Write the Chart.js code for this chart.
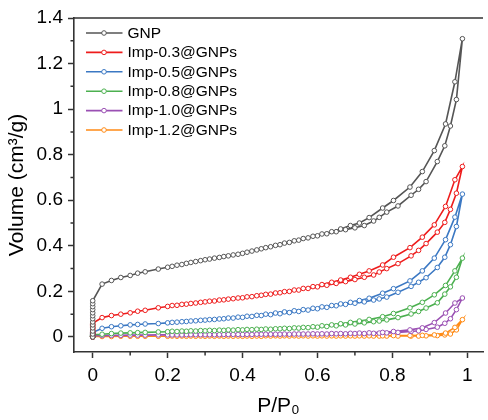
<!DOCTYPE html>
<html>
<head>
<meta charset="utf-8">
<script src="https://cdn.jsdelivr.net/npm/chart.js@4.4.1/dist/chart.umd.min.js"></script>
<style>
  html, body { margin: 0; padding: 0; background: #fff; }
  #wrap { width: 488px; height: 420px; }
</style>
</head>
<body>
<div id="wrap"><canvas id="isoChart"></canvas></div>
<script>
// relative pressure P/P0 - adsorption branch (first points sit on the axis)
const adsP = [0, 0, 0, 0, 0, 0, 0, 0, 0, 0, 0, 0, 0,
  0.025, 0.05, 0.075, 0.1, 0.12, 0.14, 0.175, 0.2, 0.225, 0.25, 0.275, 0.3, 0.325, 0.35,
  0.375, 0.4, 0.425, 0.45, 0.475, 0.5, 0.525, 0.55, 0.575, 0.6, 0.625, 0.65, 0.675, 0.7,
  0.725, 0.75, 0.765, 0.785, 0.815, 0.85, 0.87, 0.89, 0.92, 0.94, 0.955, 0.971, 0.987];
// desorption branch, going back down
const desP = [0.967, 0.942, 0.912, 0.88, 0.847, 0.803, 0.774, 0.738, 0.712, 0.688, 0.662,
  0.638, 0.612, 0.588, 0.562, 0.538, 0.512, 0.488, 0.462, 0.438, 0.412, 0.388, 0.362,
  0.338, 0.312, 0.288, 0.262, 0.238, 0.212];

const sampleNames = ["GNP", "Imp-0.3@GNPs", "Imp-0.5@GNPs", "Imp-0.8@GNPs", "Imp-1.0@GNPs", "Imp-1.2@GNPs"];
const sampleColors = ["#555555", "#ee1c1c", "#3b78c3", "#4cb050", "#9a50b3", "#ff8a14"];

// volume (cm3/g)
const gnpAds = [0, 0.013, 0.026, 0.04, 0.053, 0.066, 0.08, 0.093, 0.106, 0.12, 0.133, 0.146, 0.159,
  0.232, 0.248, 0.261, 0.270, 0.280, 0.286, 0.298, 0.306, 0.315, 0.323, 0.331, 0.339, 0.346, 0.353,
  0.360, 0.367, 0.377, 0.387, 0.396, 0.405, 0.415, 0.425, 0.435, 0.444, 0.453, 0.462, 0.471, 0.479,
  0.489, 0.509, 0.525, 0.548, 0.575, 0.622, 0.648, 0.682, 0.770, 0.839, 0.926, 1.042, 1.309];
const gnpDes = [1.120, 0.935, 0.818, 0.726, 0.658, 0.599, 0.566, 0.524, 0.500, 0.489, 0.474,
  0.462, 0.452, 0.442, 0.432, 0.422, 0.412, 0.402, 0.392, 0.382, 0.372, 0.363, 0.356,
  0.349, 0.342, 0.335, 0.327, 0.318, 0.310];

const imp03Ads = [0, 0.005, 0.01, 0.015, 0.02, 0.025, 0.03, 0.035, 0.04, 0.045, 0.05, 0.055, 0.06,
  0.085, 0.094, 0.100, 0.106, 0.113, 0.117, 0.128, 0.134, 0.139, 0.144, 0.149, 0.154, 0.158, 0.163,
  0.168, 0.172, 0.177, 0.183, 0.188, 0.194, 0.200, 0.206, 0.213, 0.220, 0.227, 0.235, 0.243, 0.252,
  0.262, 0.272, 0.285, 0.300, 0.322, 0.356, 0.380, 0.410, 0.460, 0.503, 0.560, 0.631, 0.748];
const imp03Des = [0.690, 0.573, 0.492, 0.438, 0.392, 0.350, 0.316, 0.290, 0.275, 0.262, 0.250,
  0.240, 0.230, 0.221, 0.213, 0.206, 0.199, 0.193, 0.187, 0.181, 0.176, 0.171, 0.166,
  0.162, 0.157, 0.152, 0.147, 0.143, 0.138];

const imp05Ads = [0, 0.002, 0.003, 0.005, 0.007, 0.008, 0.01, 0.012, 0.013, 0.015, 0.017, 0.018, 0.02,
  0.038, 0.045, 0.049, 0.053, 0.055, 0.057, 0.059, 0.062, 0.065, 0.068, 0.071, 0.074, 0.077, 0.080,
  0.083, 0.086, 0.090, 0.094, 0.098, 0.102, 0.107, 0.112, 0.118, 0.124, 0.130, 0.137, 0.143, 0.148,
  0.154, 0.162, 0.167, 0.175, 0.196, 0.222, 0.240, 0.260, 0.305, 0.350, 0.405, 0.485, 0.627];
const imp05Des = [0.526, 0.427, 0.346, 0.290, 0.246, 0.212, 0.192, 0.170, 0.160, 0.152, 0.145,
  0.138, 0.132, 0.126, 0.120, 0.115, 0.110, 0.105, 0.100, 0.095, 0.091, 0.087, 0.083,
  0.079, 0.076, 0.073, 0.070, 0.067, 0.064];

const imp08Ads = [0, 0.001, 0.002, 0.003, 0.003, 0.004, 0.005, 0.006, 0.007, 0.008, 0.008, 0.009, 0.010,
  0.012, 0.015, 0.017, 0.018, 0.019, 0.020, 0.022, 0.023, 0.024, 0.025, 0.026, 0.027, 0.028, 0.029,
  0.030, 0.031, 0.032, 0.033, 0.034, 0.036, 0.037, 0.039, 0.041, 0.043, 0.046, 0.049, 0.053, 0.057,
  0.062, 0.067, 0.070, 0.075, 0.085, 0.101, 0.112, 0.127, 0.150, 0.188, 0.220, 0.262, 0.346];
const imp08Des = [0.290, 0.226, 0.185, 0.152, 0.128, 0.103, 0.089, 0.077, 0.070, 0.064, 0.058,
  0.053, 0.049, 0.045, 0.042, 0.040, 0.038, 0.036, 0.035, 0.034, 0.033, 0.032, 0.031,
  0.030, 0.029, 0.028, 0.027, 0.026, 0.025];

const imp10Ads = [0, 0, 0.001, 0.001, 0.002, 0.002, 0.003, 0.003, 0.003, 0.004, 0.004, 0.005, 0.005,
  0.006, 0.007, 0.007, 0.008, 0.008, 0.008, 0.009, 0.009, 0.009, 0.010, 0.010, 0.010, 0.010, 0.011,
  0.011, 0.011, 0.011, 0.012, 0.012, 0.012, 0.012, 0.013, 0.013, 0.013, 0.013, 0.014, 0.014, 0.015,
  0.015, 0.016, 0.017, 0.018, 0.020, 0.024, 0.027, 0.033, 0.043, 0.060, 0.080, 0.120, 0.171];
const imp10Des = [0.149, 0.105, 0.063, 0.040, 0.031, 0.024, 0.020, 0.018, 0.017, 0.016, 0.015,
  0.015, 0.014, 0.014, 0.013, 0.013, 0.013, 0.012, 0.012, 0.012, 0.011, 0.011, 0.011,
  0.010, 0.010, 0.010, 0.010, 0.009, 0.009];

const imp12Ads = [0, 0, 0, 0, 0.001, 0.001, 0.001, 0.001, 0.001, 0.002, 0.002, 0.002, 0.002,
  0.002, 0.002, 0.003, 0.003, 0.003, 0.003, 0.003, 0.003, 0.003, 0.003, 0.003, 0.003, 0.003, 0.003,
  0.003, 0.003, 0.003, 0.003, 0.004, 0.004, 0.004, 0.004, 0.004, 0.004, 0.004, 0.004, 0.004, 0.004,
  0.004, 0.004, 0.004, 0.004, 0.004, 0.004, 0.004, 0.005, 0.006, 0.009, 0.013, 0.031, 0.076];
const imp12Des = [0.042, 0.017, 0.009, 0.007, 0.006, 0.006, 0.005, 0.005, 0.005, 0.005, 0.005,
  0.005, 0.005, 0.005, 0.005, 0.005, 0.005, 0.005, 0.005, 0.004, 0.004, 0.004, 0.004,
  0.004, 0.004, 0.004, 0.004, 0.004, 0.004];

const xTicks = [0, 0.2, 0.4, 0.6, 0.8, 1];
const xMinor = [0.1, 0.3, 0.5, 0.7, 0.9];
const yTicks = [0, 0.2, 0.4, 0.6, 0.8, 1, 1.2, 1.4];
const yMinor = [0.1, 0.3, 0.5, 0.7, 0.9, 1.1, 1.3];

const seriesAds = [gnpAds, imp03Ads, imp05Ads, imp08Ads, imp10Ads, imp12Ads];
const seriesDes = [gnpDes, imp03Des, imp05Des, imp08Des, imp10Des, imp12Des];

function loopPoints(ads, des) {
  const pts = adsP.map((p, i) => ({ x: p, y: ads[i] }));
  return pts.concat(desP.map((p, i) => ({ x: p, y: des[i] })));
}

const FONT = "'Liberation Sans', Arial, sans-serif";
Chart.defaults.font.family = FONT;
Chart.defaults.color = "#000";

const datasets = sampleNames.map((name, i) => ({
  label: name,
  data: loopPoints(seriesAds[i], seriesDes[i]),
  showLine: true,
  borderColor: sampleColors[i],
  borderWidth: 1.6,
  pointRadius: 2.3,
  pointBorderWidth: 1,
  pointBackgroundColor: "#fff",
  pointBorderColor: sampleColors[i],
  tension: 0
}));

// minor ticks, top frame line and in-plot legend
const extras = {
  id: "extras",
  afterDraw(chart) {
    const ctx = chart.ctx;
    const xs = chart.scales.x, ys = chart.scales.y;
    const area = chart.chartArea;
    ctx.save();
    ctx.strokeStyle = "#333";
    ctx.lineWidth = 1.5;
    ctx.beginPath();
    xMinor.forEach(v => {
      const px = xs.getPixelForValue(v);
      ctx.moveTo(px, area.bottom);
      ctx.lineTo(px, area.bottom + 3.5);
    });
    yMinor.forEach(v => {
      const py = ys.getPixelForValue(v);
      ctx.moveTo(area.left, py);
      ctx.lineTo(area.left - 3.5, py);
    });
    ctx.moveTo(area.left - 0.75, area.top);
    ctx.lineTo(area.right, area.top);
    ctx.stroke();

    // legend
    ctx.font = "15.5px " + FONT;
    ctx.textBaseline = "middle";
    chart.data.datasets.forEach((ds, i) => {
      const y = 33 + i * 19.4;
      ctx.strokeStyle = ds.borderColor;
      ctx.lineWidth = 1.6;
      ctx.beginPath();
      ctx.moveTo(86, y);
      ctx.lineTo(122.5, y);
      ctx.stroke();
      ctx.beginPath();
      ctx.arc(104, y, 2.3, 0, Math.PI * 2);
      ctx.fillStyle = "#fff";
      ctx.fill();
      ctx.lineWidth = 1;
      ctx.stroke();
      ctx.fillStyle = "#000";
      ctx.fillText(ds.label, 127.5, y + 0.5);
    });
    ctx.restore();
  }
};

new Chart(document.getElementById("isoChart"), {
  type: "scatter",
  data: { datasets: datasets },
  options: {
    responsive: true,
    maintainAspectRatio: false,
    animation: false,
    layout: { padding: { top: 18, right: 1, left: 0, bottom: 0 } },
    plugins: { legend: { display: false }, tooltip: { enabled: false } },
    scales: {
      x: {
        type: "linear",
        min: -0.05,
        max: 1.042,
        afterBuildTicks: s => { s.ticks = xTicks.map(v => ({ value: v })); },
        afterFit: s => { s.height = 68; },
        grid: { drawOnChartArea: false, drawTicks: true, tickLength: 6, tickWidth: 1.5, tickColor: "#333" },
        border: { display: true, color: "#333", width: 1.6 },
        ticks: { font: { size: 19 }, padding: 6, maxRotation: 0, callback: v => String(+v.toFixed(1)) },
        title: { display: true, text: "P/P₀", font: { size: 21 }, padding: { top: 0, bottom: 1 } }
      },
      y: {
        type: "linear",
        min: -0.066,
        max: 1.4,
        afterBuildTicks: s => { s.ticks = yTicks.map(v => ({ value: v })); },
        afterFit: s => { s.width = 74; },
        grid: { drawOnChartArea: false, drawTicks: true, tickLength: 6, tickWidth: 1.5, tickColor: "#333" },
        border: { display: true, color: "#333", width: 1.6 },
        ticks: { font: { size: 19 }, padding: 5, callback: v => String(+v.toFixed(1)) },
        title: { display: true, text: "Volume (cm³/g)", font: { size: 21 }, padding: { top: 5, bottom: 0 } }
      }
    }
  },
  plugins: [extras]
});
</script>
</body>
</html>
